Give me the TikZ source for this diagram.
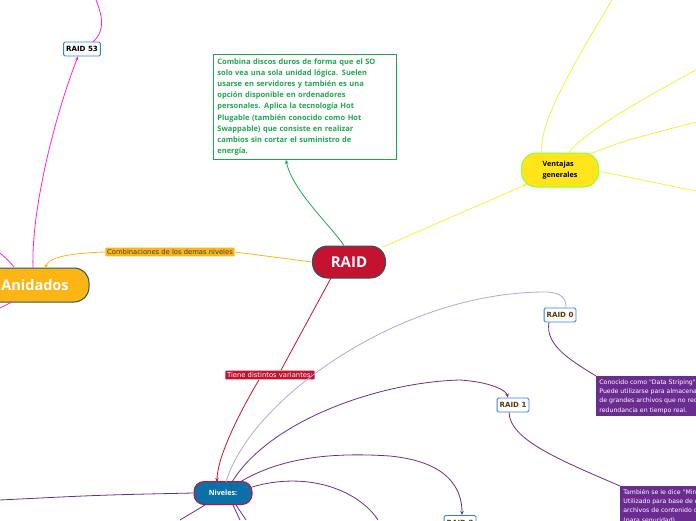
\documentclass[tikz,border=0pt]{standalone}
\usepackage{fontspec}
\setmainfont{Open Sans}
\newfontfamily\raidsans{DejaVu Sans}
\usetikzlibrary{arrows.meta,positioning}
\definecolor{raidCrimson}{HTML}{C41230}
\definecolor{raidTeal}{HTML}{1F5F5C}
\definecolor{raidGreen}{HTML}{1FA64F}
\definecolor{raidYellow}{HTML}{FFE51A}
\definecolor{raidLime}{HTML}{8CFF3A}
\definecolor{raidLine}{HTML}{F2F23A}
\definecolor{raidOrange}{HTML}{FDB515}
\definecolor{raidMagenta}{HTML}{FF22DD}
\definecolor{raidPurple}{HTML}{6B2C91}
\definecolor{raidLilac}{HTML}{B7A3D6}
\definecolor{raidBlue}{HTML}{0B6FA8}
\definecolor{raidBorder}{HTML}{2F7FE0}
\definecolor{raidBrown}{HTML}{5B3A0A}

\begin{document}
\begin{tikzpicture}[x=1pt,y=-1pt, line width=0.8pt,
    pill/.style={rectangle, rounded corners=15pt, line width=1pt, align=center, font=\bfseries},
    levelbox/.style={rectangle, rounded corners=1.5pt, draw=raidBorder, line width=0.9pt, fill=white,
      minimum height=14pt, inner sep=2.5pt, font=\raidsans\fontsize{7.1}{7.5}\selectfont\bfseries},
    tagbox/.style={rectangle, rounded corners=1pt, inner sep=1.8pt, font=\raidsans\fontsize{6.8}{7.5}\selectfont},
    notebox/.style={rectangle, anchor=north west, fill=raidPurple, text=white, align=left,
      inner sep=3pt, font=\raidsans\fontsize{6.2}{9.3}\selectfont},
    tip/.style={-{Stealth[length=4pt,width=3.5pt]}}]
  \useasboundingbox (0,0) rectangle (696,520);
  \clip (0,0) rectangle (696,520);

  % main topic
  \node[pill, fill=raidCrimson, draw=raidTeal, text=white, minimum width=73pt, minimum height=32pt,
    font=\fontsize{15}{17}\selectfont\bfseries] (raid) at (349,262) {RAID};

  % description
  \node[draw=raidGreen, line width=0.8pt, fill=white, anchor=north west, text width=175pt, inner sep=4pt,
    text=raidGreen, align=left, font=\fontsize{7.5}{11.2}\selectfont\bfseries] (combina) at (213,54)
    {Combina discos duros de forma que el SO\\ solo vea una sola unidad lógica. Suelen\\
     usarse en servidores y también es una\\ opción disponible en ordenadores\\
     personales. Aplica la tecnología Hot\\ Plugable (también conocido como Hot\\
     Swappable) que consiste en realizar\\ cambios sin cortar el suministro de\\ energía.};
  \draw[raidGreen, tip] (raid.north) ++(-5,0) coordinate (raidtop)
    (raidtop) .. controls (330,225) and (292,190) .. (combina.south -| 286,0);

  % ventajas
  \node[pill, fill=raidYellow, draw=raidLime, minimum width=77pt, minimum height=34pt,
    align=left, font=\fontsize{7.2}{11}\selectfont\bfseries] (ventajas) at (560,170) {Ventajas\\generales};
  \draw[raidLine, tip] (383,247) -- (527,184);
  \coordinate (v1) at (612,0);
  \coordinate (v2) at (696,70);
  \coordinate (v3) at (696,122);
  \coordinate (v4) at (696,191);
  \draw[raidLine] (542,153) .. controls (538,125) and (570,70) .. (v1);
  \draw[raidLine] (568,153) .. controls (585,132) and (640,100) .. (v2);
  \draw[raidLine] (590,154) .. controls (620,142) .. (v3);
  \draw[raidLine] (598,171) -- (v4);

  % anidados
  \node[pill, fill=raidOrange, draw=raidTeal, text=white, minimum width=108pt, minimum height=34pt,
    font=\fontsize{14.5}{16}\selectfont\bfseries] (anidados) at (35,285) {Anidados};
  \node[tagbox, fill=raidOrange, text=black!75] (combi) at (170,252) {Combinaciones de los demas niveles};
  \draw[raidOrange] (raid.west) -- (combi.east);
  \draw[raidOrange, tip] (combi.west) .. controls (75,253) and (50,256) .. (45,268);

  \node[levelbox] (raid53) at (82,49) {RAID 53};
  \coordinate (m1) at (96,0);
  \coordinate (m2) at (0,253);
  \coordinate (m3) at (0,308);
  \draw[raidMagenta, tip] (33,268) .. controls (31,210) and (55,115) .. (raid53.south -| 78,0);
  \draw[raidMagenta] (93,42) .. controls (106,30) and (102,15) .. (m1);
  \draw[raidMagenta] (14,267) .. controls (8,260) .. (m2);
  \draw[raidMagenta] (12,302) .. controls (6,305) .. (m3);

  % niveles
  \node[pill, fill=raidBlue, draw=raidCrimson, text=white, minimum width=58pt, minimum height=23pt,
    rounded corners=10pt, font=\fontsize{7.2}{8}\selectfont\bfseries] (niveles) at (223,493) {Niveles:};
  \node[tagbox, fill=raidCrimson, text=white] (tiene) at (270,375) {Tiene distintos variantes:};
  \draw[raidCrimson] (331,278) -- (tiene.north -| 281,0);
  \draw[raidCrimson, tip] (tiene.south -| 259,0) .. controls (235,420) and (217,460) .. (217,482);

  \node[levelbox, text=raidBrown] (raid0) at (560,315) {RAID 0};
  \node[levelbox, text=raidBrown] (raid1) at (513,405) {RAID 1};
  \node[levelbox, text=raidBrown, anchor=north] (raid2) at (460,515) {RAID 2};

  \node[notebox] (nota0) at (596,376)
    {Conocido como "Data Striping".\\ Puede utilizarse para almacenamiento\\
     de grandes archivos que no requieren\\ redundancia en tiempo real.};
  \node[notebox] (nota1) at (620,486)
    {También se le dice "Mirroring".\\ Utilizado para base de datos y\\
     archivos de contenido crítico\\ (para seguridad).};

  \draw[raidLilac] (226,482) .. controls (250,400) and (400,292) .. (545,292)
    .. controls (563,292) and (566,300) .. (raid0.north -| 566,0);
  \draw[raidPurple] (raid0.south -| 549,0) .. controls (545,345) and (570,360) .. (nota0.north west);
  \draw[raidPurple, tip] (232,482) .. controls (270,420) and (380,382) .. (460,380)
    .. controls (490,382) and (506,390) .. (raid1.north -| 508,0);
  \draw[raidPurple] (raid1.south -| 509,0) .. controls (510,440) and (560,460) .. (nota1.north west);
  \draw[raidPurple, tip] (240,482) .. controls (280,458) and (330,452) .. (390,456)
    .. controls (450,462) and (462,490) .. (raid2.north -| 462,0);

  \coordinate (n1) at (0,500);
  \coordinate (n2) at (378,520);
  \coordinate (n3) at (180,520);
  \coordinate (n4) at (240,520);
  \coordinate (n5) at (246,520);
  \draw[raidPurple] (niveles.west) .. controls (100,495) .. (n1);
  \draw[raidPurple] (252,487) .. controls (310,470) and (360,492) .. (n2);
  \draw[raidPurple] (205,505) -- (n3);
  \draw[raidPurple] (233,505) -- (n4);
  \draw[raidPurple] (236,505) -- (n5);
\end{tikzpicture}
\end{document}
